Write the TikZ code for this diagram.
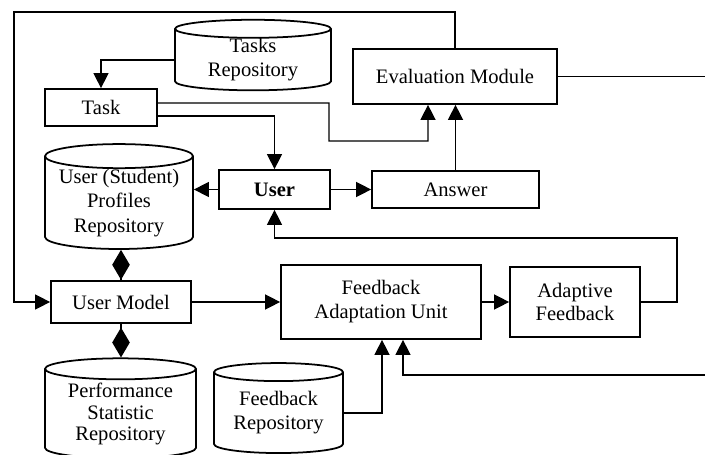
\documentclass[tikz,border=0pt]{standalone}
\usepackage{fontspec}
\setmainfont{Liberation Serif}
\usetikzlibrary{shapes.geometric,arrows.meta,calc}

\begin{document}
\begin{tikzpicture}[x=0.02cm, y=-0.02cm,
    every node/.style={font=\fontsize{11.7}{13.6}\selectfont, align=center},
    box/.style={draw, line width=1pt, inner sep=0pt},
    repo/.style={draw, line width=1pt, cylinder, shape border rotate=90, aspect=0.2, inner sep=0pt},
    arr/.style={line width=0.8pt, -{Triangle[length=8.5pt, width=8.5pt]}},
    dia/.style={line width=0.8pt, -{Diamond[length=17pt, width=10pt]}},
    link/.style={line width=0.8pt}]

    \useasboundingbox (0,0) rectangle (705,455);

    % Boxes
    \node[box, minimum width=2.24cm, minimum height=0.74cm] (task) at (101,107.5) {Task};
    \node[box, minimum width=2.22cm, minimum height=0.78cm] (user) at (274.5,189.5) {\textbf{User}};
    \node[box, minimum width=3.34cm, minimum height=0.74cm] (answer) at (455.5,189.5) {Answer};
    \node[box, minimum width=4.08cm, minimum height=1.1cm] (eval) at (455,76.5) {Evaluation Module};
    \node[box, minimum width=2.8cm, minimum height=0.84cm] (um) at (121,302) {User Model};
    \node[box, minimum width=4.0cm, minimum height=1.48cm] (fau) at (381,302) {Feedback\\Adaptation Unit};
    \node[box, minimum width=2.6cm, minimum height=1.4cm] (af) at (575,302) {Adaptive\\Feedback};

    % Repositories
    \node[repo, minimum width=3.12cm, minimum height=1.32cm] (tasksrep) at (253,60) {Tasks\\Repository};
    \node[repo, minimum width=2.96cm, minimum height=2.06cm, font=\fontsize{11.7}{14}\selectfont] (profrep) at (119,203) {User (Student)\\Profiles\\Repository};
    \node[repo, minimum width=3.02cm, minimum height=2.0cm, font=\fontsize{11.7}{12.3}\selectfont] (perfrep) at (120.5,414) {Performance\\Statistic\\Repository};
    \node[repo, minimum width=2.58cm, minimum height=1.8cm] (fbrep) at (278.5,413) {Feedback\\Repository};

    % Loose ends at the right border
    \coordinate (evalout) at (705,76.5);
    \coordinate (fbin) at (705,375);

    % Draw connectors
    \draw[arr] (tasksrep.west) -| (task.north);
    \draw[arr] ([yshift=0.09cm]task.east) -- (329,103) -- (329,141) -| ([xshift=-0.54cm]eval.south);
    \draw[arr] ([yshift=-0.17cm]task.east) -| (user.north);
    \draw[arr] (user.west) -- (user.west -| profrep.east);
    \draw[arr] (user.east) -- (answer.west);
    \draw[arr] (answer.north) -- (answer.north |- eval.south);
    \draw[arr] (eval.north) |- (14,12) |- (um.west);
    \draw[link] (eval.east) -- (evalout);

    \draw[dia] (um.north) -- (um.north |- profrep.south);
    \draw[dia] (um.south) -- (um.south |- perfrep.north);
    \draw[arr] (um.east) -- (fau.west);
    \draw[arr] (fau.east) -- (af.west);
    \draw[arr] (af.east) -| (677,238) -| (user.south);

    \draw[arr] (fbrep.east) -| ([xshift=0.02cm]fau.south);
    \draw[arr] (fbin) -| ([xshift=0.44cm]fau.south);

\end{tikzpicture}
\end{document}
